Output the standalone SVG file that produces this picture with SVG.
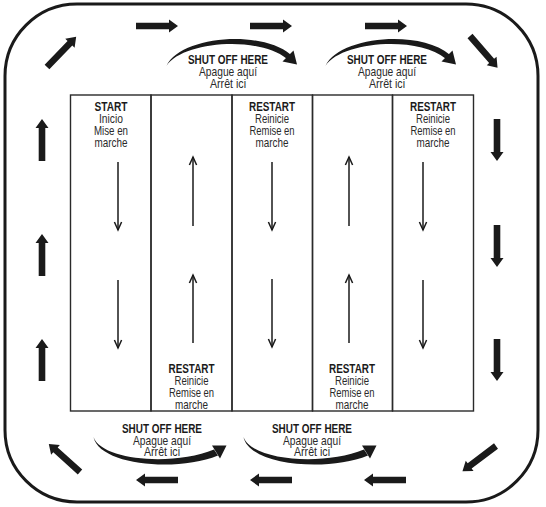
<svg xmlns="http://www.w3.org/2000/svg" xmlns:xlink="http://www.w3.org/1999/xlink" width="546" height="507" viewBox="0 0 546 507">
<style>
  .frame{fill:none;stroke:#1a1a1a;stroke-width:3}
  .col{fill:none;stroke:#2a2a2a;stroke-width:1.4}
  .b{font-family:"Liberation Sans",Arial,sans-serif;font-weight:bold;font-size:13.5px;fill:#1a1a1a;text-anchor:middle}
  .r{font-family:"Liberation Sans",Arial,sans-serif;font-size:13px;fill:#2a2a2a;text-anchor:middle}
  .thin{fill:none;stroke:#1a1a1a;stroke-width:1.5;marker-end:url(#vhead)}
  .arc{fill:#1a1a1a;stroke:none}
  .blk{fill:#1a1a1a}
</style>
<defs>
  <marker id="vhead" markerUnits="userSpaceOnUse" markerWidth="20" markerHeight="20" viewBox="-10 -10 20 20" refX="0" refY="0" orient="auto" overflow="visible">
    <path d="M-8,-3.6 L0,0 L-8,3.6" fill="none" stroke="#1a1a1a" stroke-width="1.5"/>
  </marker>
  <path id="blk" class="blk" d="M0,-3.3 H33 V-6.5 L42,0 L33,6.5 V3.3 H0 Z"/>
  <g id="arcTop">
    <path class="arc" d="M166.5,66 C180,36.5 260,29 290.5,54.5 L286.5,58.5 C258,35.5 182,41.5 166.5,66 Z"/>
    <polygon class="arc" points="293.5,50.5 297,64.5 282.5,61.5"/>
  </g>
  <g id="arcBottom">
    <path class="arc" d="M93.5,437 C99,465 176,472.5 218,455.5 L214,449.5 C174,466 102,461 93.5,437 Z"/>
    <polygon class="arc" points="220,458.5 226.5,445.5 212,445.5"/>
  </g>
</defs>

<g id="frame">
  <rect class="frame" x="5" y="4" width="533" height="498" rx="72" ry="72"/>
</g>

<g id="grid">
  <rect id="col1" class="col" x="70.5" y="95" width="80.5" height="316"/>
  <rect id="col2" class="col" x="151" y="95" width="81" height="316"/>
  <rect id="col3" class="col" x="232" y="95" width="80.5" height="316"/>
  <rect id="col4" class="col" x="312.5" y="95" width="80" height="316"/>
  <rect id="col5" class="col" x="392.5" y="95" width="81" height="316"/>
</g>

<g id="label-start">
  <text class="b" x="111" y="110.5" textLength="33" lengthAdjust="spacingAndGlyphs">START</text>
  <text class="r" x="111" y="123" textLength="24" lengthAdjust="spacingAndGlyphs">Inicio</text>
  <text class="r" x="111" y="135" textLength="34" lengthAdjust="spacingAndGlyphs">Mise en</text>
  <text class="r" x="111" y="147" textLength="33" lengthAdjust="spacingAndGlyphs">marche</text>
</g>
<g id="label-restart-top-1">
  <text class="b" x="272" y="110.5" textLength="46" lengthAdjust="spacingAndGlyphs">RESTART</text>
  <text class="r" x="272" y="123" textLength="34" lengthAdjust="spacingAndGlyphs">Reinicie</text>
  <text class="r" x="272" y="135" textLength="45" lengthAdjust="spacingAndGlyphs">Remise en</text>
  <text class="r" x="272" y="147" textLength="33" lengthAdjust="spacingAndGlyphs">marche</text>
</g>
<g id="label-restart-top-2">
  <text class="b" x="433" y="110.5" textLength="46" lengthAdjust="spacingAndGlyphs">RESTART</text>
  <text class="r" x="433" y="123" textLength="34" lengthAdjust="spacingAndGlyphs">Reinicie</text>
  <text class="r" x="433" y="135" textLength="45" lengthAdjust="spacingAndGlyphs">Remise en</text>
  <text class="r" x="433" y="147" textLength="33" lengthAdjust="spacingAndGlyphs">marche</text>
</g>
<g id="label-restart-bottom-1">
  <text class="b" x="191.5" y="372.5" textLength="46" lengthAdjust="spacingAndGlyphs">RESTART</text>
  <text class="r" x="191.5" y="384.5" textLength="34" lengthAdjust="spacingAndGlyphs">Reinicie</text>
  <text class="r" x="191.5" y="396.5" textLength="45" lengthAdjust="spacingAndGlyphs">Remise en</text>
  <text class="r" x="191.5" y="408.5" textLength="33" lengthAdjust="spacingAndGlyphs">marche</text>
</g>
<g id="label-restart-bottom-2">
  <text class="b" x="352" y="372.5" textLength="46" lengthAdjust="spacingAndGlyphs">RESTART</text>
  <text class="r" x="352" y="384.5" textLength="34" lengthAdjust="spacingAndGlyphs">Reinicie</text>
  <text class="r" x="352" y="396.5" textLength="45" lengthAdjust="spacingAndGlyphs">Remise en</text>
  <text class="r" x="352" y="408.5" textLength="33" lengthAdjust="spacingAndGlyphs">marche</text>
</g>
<g id="label-shutoff-top-1">
  <text class="b" x="228" y="64" textLength="80" lengthAdjust="spacingAndGlyphs">SHUT OFF HERE</text>
  <text class="r" x="228" y="76" textLength="58" lengthAdjust="spacingAndGlyphs">Apague aquí</text>
  <text class="r" x="228" y="87.5" textLength="36" lengthAdjust="spacingAndGlyphs">Arrêt ici</text>
</g>
<g id="label-shutoff-top-2">
  <text class="b" x="387" y="64" textLength="80" lengthAdjust="spacingAndGlyphs">SHUT OFF HERE</text>
  <text class="r" x="387" y="76" textLength="58" lengthAdjust="spacingAndGlyphs">Apague aquí</text>
  <text class="r" x="387" y="87.5" textLength="36" lengthAdjust="spacingAndGlyphs">Arrêt ici</text>
</g>
<g id="label-shutoff-bottom-1">
  <text class="b" x="162" y="433" textLength="80" lengthAdjust="spacingAndGlyphs">SHUT OFF HERE</text>
  <text class="r" x="162" y="444.5" textLength="58" lengthAdjust="spacingAndGlyphs">Apague aquí</text>
  <text class="r" x="162" y="456" textLength="36" lengthAdjust="spacingAndGlyphs">Arrêt ici</text>
</g>
<g id="label-shutoff-bottom-2">
  <text class="b" x="312" y="433" textLength="80" lengthAdjust="spacingAndGlyphs">SHUT OFF HERE</text>
  <text class="r" x="312" y="444.5" textLength="58" lengthAdjust="spacingAndGlyphs">Apague aquí</text>
  <text class="r" x="312" y="456" textLength="36" lengthAdjust="spacingAndGlyphs">Arrêt ici</text>
</g>

<g id="connectors">
  <!-- thin lane arrows -->
  <path class="thin" d="M118,162 V230"/>
  <path class="thin" d="M118,280 V348"/>
  <path class="thin" d="M193,226 V157"/>
  <path class="thin" d="M193,343 V275"/>
  <path class="thin" d="M272,162 V230"/>
  <path class="thin" d="M272,279 V347"/>
  <path class="thin" d="M349,226 V157"/>
  <path class="thin" d="M349,343 V275"/>
  <path class="thin" d="M423,162 V230"/>
  <path class="thin" d="M423,280 V348"/>

  <!-- shut-off arcs -->
  <use xlink:href="#arcTop"/>
  <use xlink:href="#arcTop" transform="translate(159,0)"/>
  <use xlink:href="#arcBottom"/>
  <use xlink:href="#arcBottom" transform="translate(150,0)"/>

  <!-- outer circuit block arrows -->
  <use xlink:href="#blk" transform="translate(136,26)"/>
  <use xlink:href="#blk" transform="translate(250,26)"/>
  <use xlink:href="#blk" transform="translate(365,26)"/>
  <use xlink:href="#blk" transform="translate(47,67) rotate(-46)"/>
  <use xlink:href="#blk" transform="translate(470,36) rotate(49)"/>
  <use xlink:href="#blk" transform="translate(497,119) rotate(90)"/>
  <use xlink:href="#blk" transform="translate(497,225) rotate(90)"/>
  <use xlink:href="#blk" transform="translate(497,339) rotate(90)"/>
  <use xlink:href="#blk" transform="translate(496,446) rotate(143)"/>
  <use xlink:href="#blk" transform="translate(406,480) rotate(180)"/>
  <use xlink:href="#blk" transform="translate(292,480) rotate(180)"/>
  <use xlink:href="#blk" transform="translate(178,480) rotate(180)"/>
  <use xlink:href="#blk" transform="translate(80,472) rotate(-138)"/>
  <use xlink:href="#blk" transform="translate(42,381) rotate(-90)"/>
  <use xlink:href="#blk" transform="translate(42,276) rotate(-90)"/>
  <use xlink:href="#blk" transform="translate(42,161) rotate(-90)"/>
</g>
</svg>
